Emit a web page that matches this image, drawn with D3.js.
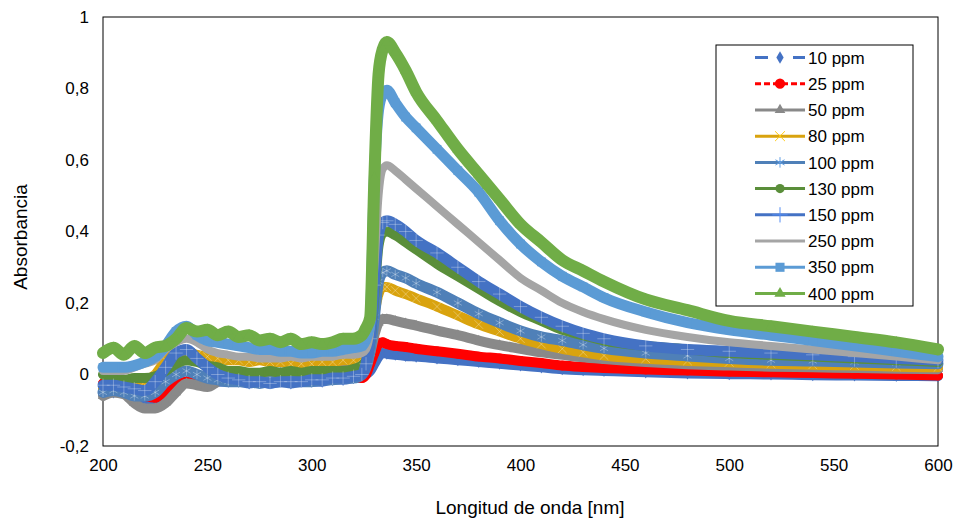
<!DOCTYPE html>
<html>
<head>
<meta charset="utf-8">
<script src="https://cdn.jsdelivr.net/npm/d3@7"></script>
<style>
  body { margin: 0; background: #fff; }
  text { font-family: "Liberation Sans", Arial, sans-serif; fill: #000; }
</style>
</head>
<body>
<script>
// wavelength grid (nm) shared by every series
var wavelengths = [200,205,210,215,220,225,230,235,240,245,250,255,260,265,270,275,280,285,290,295,
  300,305,310,315,320,324,326,328,330,332,334,336,340,345,350,360,370,380,390,400,410,420,430,440,
  460,480,500,520,540,560,580,600];

var s10 = [-0.04,-0.05,-0.04,-0.05,-0.07,-0.07,-0.05,-0.03,-0.02,-0.02,
  -0.025,-0.02,-0.02,-0.02,-0.025,-0.02,-0.025,-0.02,-0.025,-0.02,
  -0.02,-0.02,-0.015,-0.015,-0.01,
  -0.005,0.0,0.01,0.03,0.05,0.06,0.058,
  0.055,0.052,0.05,0.045,0.04,0.035,0.03,0.025,0.02,0.015,0.012,0.01,0.006,0.003,0.001,0.0,-0.002,-0.003,-0.004,-0.005];
var s25 = [-0.025,-0.04,-0.04,-0.05,-0.06,-0.065,-0.045,-0.03,-0.02,-0.02,
  -0.015,-0.015,-0.01,-0.015,-0.015,-0.01,-0.01,-0.01,-0.01,-0.01,
  -0.01,-0.005,-0.005,-0.005,-0.01,
  -0.01,0.0,0.03,0.06,0.085,0.09,0.085,
  0.08,0.077,0.072,0.065,0.058,0.05,0.045,0.038,0.032,0.025,0.021,0.018,0.014,0.011,0.008,0.006,0.004,0.002,0.0,-0.003];
var s50 = [-0.06,-0.05,-0.055,-0.08,-0.095,-0.095,-0.08,-0.05,-0.025,-0.03,
  -0.035,-0.02,-0.01,-0.005,0.0,0.0,0.005,0.005,0.005,0.0,
  0.005,0.01,0.01,0.015,0.015,
  0.02,0.03,0.06,0.11,0.145,0.155,0.155,
  0.15,0.143,0.137,0.123,0.11,0.095,0.082,0.072,0.062,0.055,0.048,0.043,0.035,0.029,0.025,0.022,0.02,0.018,0.016,0.015];
var s80 = [-0.04,-0.04,-0.04,-0.03,-0.02,0.0,0.04,0.06,0.065,0.055,
  0.05,0.045,0.04,0.04,0.035,0.04,0.035,0.035,0.03,0.03,
  0.03,0.035,0.035,0.04,0.04,
  0.045,0.06,0.10,0.17,0.225,0.245,0.245,
  0.235,0.225,0.213,0.19,0.165,0.14,0.12,0.10,0.085,0.072,0.062,0.053,0.044,0.038,0.034,0.03,0.027,0.025,0.022,0.02];
var s100 = [-0.05,-0.045,-0.05,-0.06,-0.06,-0.05,-0.02,0.0,0.01,0.0,
  -0.01,-0.015,-0.02,-0.02,-0.02,-0.025,-0.02,-0.02,-0.02,-0.02,
  -0.02,-0.015,-0.015,-0.01,-0.01,
  0.0,0.02,0.07,0.16,0.26,0.285,0.29,
  0.28,0.27,0.255,0.23,0.20,0.17,0.145,0.122,0.105,0.095,0.083,0.073,0.06,0.052,0.045,0.04,0.038,0.035,0.032,0.03];
var s130 = [0.0,-0.01,-0.015,-0.01,-0.01,-0.005,0.01,0.03,0.04,0.035,
  0.025,0.02,0.01,0.01,0.005,0.005,0.01,0.005,0.01,0.005,
  0.01,0.01,0.01,0.01,0.015,
  0.025,0.04,0.09,0.22,0.36,0.395,0.40,
  0.39,0.37,0.35,0.31,0.275,0.24,0.205,0.175,0.15,0.125,0.11,0.095,0.08,0.07,0.06,0.055,0.05,0.045,0.04,0.035];
var s150 = [-0.03,-0.03,-0.035,-0.04,-0.045,-0.02,0.02,0.06,0.07,0.045,
  0.02,0.0,-0.01,-0.015,-0.02,-0.02,-0.025,-0.02,-0.02,-0.02,
  -0.015,-0.015,-0.01,-0.01,-0.005,
  0.0,0.03,0.10,0.25,0.39,0.425,0.43,
  0.42,0.40,0.375,0.34,0.30,0.26,0.225,0.19,0.16,0.135,0.115,0.10,0.08,0.07,0.065,0.06,0.055,0.05,0.045,0.04];
var s250 = [0.01,0.01,0.01,0.02,0.03,0.04,0.07,0.09,0.10,0.09,
  0.07,0.06,0.055,0.05,0.05,0.045,0.045,0.045,0.05,0.045,
  0.05,0.05,0.05,0.055,0.055,
  0.06,0.07,0.12,0.30,0.50,0.575,0.585,
  0.57,0.545,0.52,0.47,0.42,0.37,0.32,0.27,0.235,0.20,0.175,0.155,0.125,0.105,0.09,0.08,0.07,0.06,0.05,0.04];
var s350 = [0.02,0.02,0.02,0.025,0.035,0.05,0.08,0.12,0.135,0.11,
  0.095,0.09,0.085,0.08,0.075,0.07,0.07,0.065,0.065,0.06,
  0.06,0.065,0.065,0.07,0.075,
  0.08,0.10,0.15,0.55,0.74,0.785,0.795,
  0.76,0.72,0.69,0.63,0.57,0.51,0.43,0.365,0.315,0.275,0.245,0.215,0.175,0.145,0.125,0.11,0.095,0.08,0.065,0.05];
var s400 = [0.06,0.075,0.055,0.08,0.06,0.075,0.08,0.10,0.13,0.12,
  0.125,0.11,0.12,0.105,0.11,0.095,0.10,0.09,0.10,0.085,
  0.09,0.085,0.09,0.10,0.10,
  0.11,0.13,0.16,0.55,0.84,0.91,0.93,
  0.90,0.85,0.79,0.71,0.63,0.56,0.49,0.42,0.37,0.32,0.29,0.26,0.21,0.18,0.15,0.135,0.12,0.105,0.09,0.07];

var seriesNames = ["10 ppm","25 ppm","50 ppm","80 ppm","100 ppm","130 ppm","150 ppm","250 ppm","350 ppm","400 ppm"];
var seriesValues = [s10, s25, s50, s80, s100, s130, s150, s250, s350, s400];
var xTicks = [200,250,300,350,400,450,500,550,600];
var yTicks = [-0.2,0,0.2,0.4,0.6,0.8,1];

// style per series, same order as names
var styles = [
  {color: "#4472c4", symbol: d3.symbolDiamond, size: 42, dash: "13,12,1,12,13", fill: true, band: 10},
  {color: "#ff0000", symbol: d3.symbolCircle, size: 75, dash: "6,3", fill: true, band: 10},
  {color: "#898989", symbol: d3.symbolTriangle, size: 45, dash: null, fill: true, band: 10},
  {color: "#d9a30e", symbol: d3.symbolTimes || d3.symbolX || d3.symbolCross, size: 50, dash: null, fill: false, band: 10},
  {color: "#4f80b8", symbol: d3.symbolAsterisk || d3.symbolCross, size: 60, dash: null, fill: false, band: 11},
  {color: "#5a8e3a", symbol: d3.symbolCircle, size: 60, dash: null, fill: true, band: 10},
  {color: "#4472c4", symbol: d3.symbolPlus || d3.symbolCross, size: 60, dash: null, fill: false, band: 11},
  {color: "#a5a5a5", symbol: null, size: 0, dash: null, fill: true, band: 8},
  {color: "#5b9bd5", symbol: d3.symbolSquare, size: 75, dash: null, fill: true, band: 11},
  {color: "#70ad47", symbol: d3.symbolTriangle, size: 50, dash: null, fill: true, band: 12}
];

var width = 955, height = 519;
var svg = d3.select("body").append("svg").attr("width", width).attr("height", height);

var x = d3.scaleLinear().domain([200, 600]).range([103, 938]);
var y = d3.scaleLinear().domain([-0.2, 1]).range([446, 17]);

var fmt = d3.formatLocale({decimal: ",", thousands: ".", grouping: [3], currency: ["", ""], minus: "-"}).format("~g");

// plot frame
svg.append("rect")
  .attr("x", x(200)).attr("y", y(1))
  .attr("width", x(600) - x(200)).attr("height", y(-0.2) - y(1))
  .attr("fill", "none").attr("stroke", "#000").attr("stroke-width", 1);

// axes (labels only, no tick marks)
svg.append("g").attr("transform", "translate(" + x(200) + ",0)")
  .call(d3.axisLeft(y).tickValues(yTicks).tickSize(0).tickPadding(14).tickFormat(fmt));
svg.append("g").attr("transform", "translate(0," + y(-0.2) + ")")
  .call(d3.axisBottom(x).tickValues(xTicks).tickSize(0).tickPadding(13).tickFormat(d3.format("d")));
svg.selectAll(".domain").remove();
svg.selectAll(".tick text").style("font-size", "17px").attr("fill", "#000")
  .style("font-family", "'Liberation Sans', Arial, sans-serif");

svg.append("text").attr("x", 530).attr("y", 514).attr("text-anchor", "middle")
  .style("font-size", "19px").text("Longitud de onda [nm]");
svg.append("text").attr("transform", "translate(27,237) rotate(-90)").attr("text-anchor", "middle")
  .style("font-size", "19px").text("Absorbancia");

var line = d3.line()
  .x(function(d, i) { return x(wavelengths[i]); })
  .y(function(d) { return y(d); })
  .curve(d3.curveMonotoneX);

var plot = svg.append("g").attr("id", "series");

for (var k = 0; k < seriesValues.length; k++) {
  var st = styles[k];
  var g = plot.append("g").attr("class", "s" + k);
  // dense markers in the original merge into a thick band
  g.append("path")
    .attr("d", line(seriesValues[k]))
    .attr("fill", "none")
    .attr("stroke", st.color)
    .attr("stroke-width", st.band)
    .attr("stroke-linejoin", "round")
    .attr("stroke-linecap", "round");
  if (st.symbol) {
    g.selectAll("path.m").data(seriesValues[k]).enter().append("path")
      .attr("class", "m")
      .attr("transform", function(d, i) { return "translate(" + x(wavelengths[i]) + "," + y(d) + ")"; })
      .attr("d", d3.symbol().type(st.symbol).size(st.size))
      .attr("fill", st.fill ? st.color : "none")
      .attr("stroke", st.fill ? "none" : "#ffffff")
      .attr("stroke-opacity", 0.3)
      .attr("stroke-width", 1);
  }
}

// legend
var legend = svg.append("g").attr("id", "legend");
legend.append("rect")
  .attr("x", 716).attr("y", 45).attr("width", 197).attr("height", 261)
  .attr("fill", "#fff").attr("stroke", "#000").attr("stroke-width", 1);

var rowY = d3.scalePoint().domain(seriesNames).range([57.5, 293.5]);

var items = legend.selectAll("g.item").data(seriesNames).enter().append("g")
  .attr("class", "item")
  .attr("transform", function(d) { return "translate(0," + rowY(d) + ")"; });

items.append("line")
  .attr("x1", 755).attr("x2", 805).attr("y1", 0).attr("y2", 0)
  .attr("stroke", function(d, i) { return styles[i].color; })
  .attr("stroke-width", 3)
  .attr("stroke-dasharray", function(d, i) { return styles[i].dash; });

items.each(function(d, i) {
  var st = styles[i];
  if (!st.symbol) return;
  d3.select(this).append("path")
    .attr("transform", "translate(780,0)")
    .attr("d", d3.symbol().type(st.symbol).size(st.fill ? st.size * 1.1 : st.size * 1.3))
    .attr("fill", st.fill ? st.color : "none")
    .attr("stroke", st.fill ? "none" : d3.color(st.color).brighter(0.6))
    .attr("stroke-width", 1);
});

items.append("text")
  .attr("x", 808).attr("y", 0).attr("dy", "0.36em")
  .style("font-size", "17px")
  .text(function(d) { return d; });
</script>
</body>
</html>
